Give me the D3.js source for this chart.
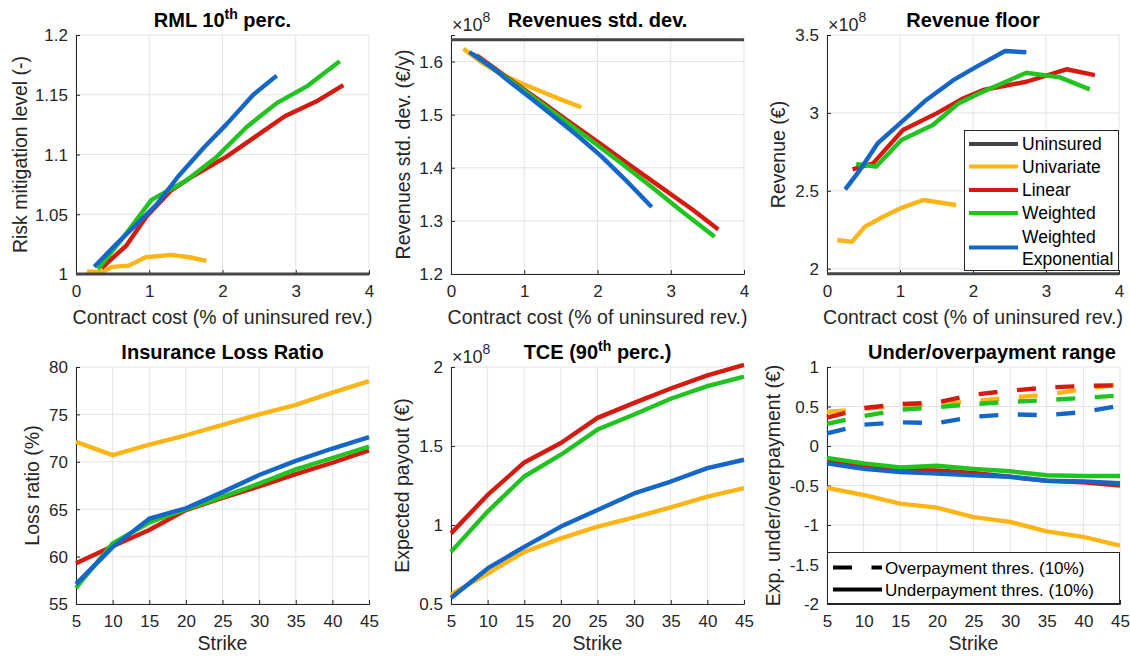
<!DOCTYPE html>
<html>
<head>
<meta charset="utf-8">
<script src="https://cdn.jsdelivr.net/npm/d3@7"></script>
<style>
  html, body { margin: 0; padding: 0; background: #fff; }
  svg { display: block; font-family: "Liberation Sans", Arial, Helvetica, sans-serif; }
</style>
</head>
<body>
<svg id="chart" width="1130" height="656"></svg>
<script>
// ---------- data ----------
const seriesNames = ["Uninsured", "Univariate", "Linear", "Weighted", "Weighted Exponential"];
const strikes = [5, 10, 15, 20, 25, 30, 35, 40, 45];

// RML 10th percentile vs contract cost [cost %, RML]
const rmlUninsured = [[0, 1], [4, 1]];
const rmlUnivariate = [[0.15, 1.002], [0.35, 1.002], [0.5, 1.006], [0.72, 1.007], [0.95, 1.014], [1.3, 1.016], [1.55, 1.014], [1.78, 1.011]];
const rmlLinear = [[0.35, 1.005], [0.69, 1.024], [0.96, 1.048], [1.3, 1.07], [1.6, 1.082], [2.05, 1.098], [2.45, 1.115], [2.85, 1.132], [3.3, 1.145], [3.65, 1.158]];
const rmlWeighted = [[0.3, 1.004], [0.7, 1.035], [1.03, 1.062], [1.5, 1.078], [1.92, 1.098], [2.33, 1.123], [2.74, 1.143], [3.15, 1.157], [3.6, 1.178]];
const rmlWeightedExp = [[0.25, 1.006], [0.55, 1.025], [0.8, 1.040], [1.1, 1.058], [1.4, 1.082], [1.75, 1.106], [2.05, 1.125], [2.42, 1.150], [2.74, 1.166]];

// Revenues standard deviation vs contract cost [cost %, x1e8 EUR/y]
const sdUninsured = [[0, 1.641], [4, 1.641]];
const sdUnivariate = [[0.17, 1.624], [0.4, 1.600], [0.7, 1.575], [1.0, 1.557], [1.3, 1.540], [1.55, 1.526], [1.78, 1.514]];
const sdLinear = [[0.35, 1.612], [0.69, 1.578], [0.96, 1.551], [1.3, 1.518], [1.6, 1.488], [2.05, 1.444], [2.45, 1.404], [2.85, 1.365], [3.3, 1.321], [3.65, 1.284]];
const sdWeighted = [[0.3, 1.614], [0.7, 1.575], [1.03, 1.542], [1.5, 1.494], [1.92, 1.451], [2.33, 1.408], [2.74, 1.364], [3.15, 1.318], [3.6, 1.270]];
const sdWeightedExp = [[0.25, 1.618], [0.55, 1.590], [0.8, 1.562], [1.1, 1.530], [1.4, 1.497], [1.75, 1.458], [2.05, 1.422], [2.42, 1.372], [2.74, 1.326]];

// Revenue floor vs contract cost [cost %, x1e8 EUR]
const rfUninsured = [[0, 1.968], [4, 1.968]];
const rfUnivariate = [[0.14, 2.184], [0.34, 2.172], [0.52, 2.270], [0.77, 2.334], [1.0, 2.387], [1.32, 2.441], [1.77, 2.409]];
const rfLinear = [[0.35, 2.638], [0.63, 2.676], [1.04, 2.890], [1.5, 2.997], [1.87, 3.094], [2.14, 3.147], [2.73, 3.200], [3.28, 3.280], [3.67, 3.243]];
const rfWeighted = [[0.4, 2.672], [0.67, 2.655], [1.02, 2.826], [1.45, 2.922], [1.8, 3.060], [2.09, 3.126], [2.73, 3.258], [3.19, 3.228], [3.6, 3.151]];
const rfWeightedExp = [[0.25, 2.509], [0.45, 2.633], [0.7, 2.808], [1.0, 2.933], [1.36, 3.083], [1.73, 3.210], [2.05, 3.297], [2.44, 3.397], [2.73, 3.389]];

// Insurance loss ratio (%) per strike
const lrUnivariate = [72.1, 70.7, 71.8, 72.8, 73.9, 75.0, 76.0, 77.3, 78.5];
const lrLinear = [59.3, 61.1, 62.8, 64.9, 66.2, 67.4, 68.7, 69.9, 71.2];
const lrWeighted = [56.7, 61.4, 63.6, 65.0, 66.3, 67.7, 69.2, 70.4, 71.6];
const lrWeightedExp = [57.1, 61.0, 64.0, 65.1, 66.8, 68.6, 70.1, 71.4, 72.6];

// TCE (90th percentile) expected payout per strike, x1e8 EUR
const tceUnivariate = [0.561, 0.693, 0.830, 0.915, 0.990, 1.049, 1.112, 1.180, 1.233];
const tceLinear = [0.947, 1.190, 1.396, 1.519, 1.678, 1.773, 1.864, 1.947, 2.013];
const tceWeighted = [0.830, 1.085, 1.307, 1.445, 1.604, 1.699, 1.799, 1.879, 1.939];
const tceWeightedExp = [0.538, 0.725, 0.862, 0.990, 1.095, 1.200, 1.275, 1.360, 1.413];

// Expected over/underpayment per strike
const overUnivariate = [0.43, 0.47, 0.51, 0.52, 0.57, 0.61, 0.65, 0.72, 0.78];
const overLinear = [0.36, 0.48, 0.53, 0.55, 0.65, 0.70, 0.74, 0.76, 0.77];
const overWeighted = [0.28, 0.38, 0.46, 0.49, 0.53, 0.56, 0.58, 0.61, 0.64];
const overWeightedExp = [0.16, 0.27, 0.30, 0.29, 0.37, 0.40, 0.39, 0.43, 0.51];
const underUnivariate = [-0.53, -0.62, -0.73, -0.78, -0.90, -0.96, -1.08, -1.15, -1.26];
const underLinear = [-0.20, -0.26, -0.30, -0.31, -0.34, -0.39, -0.44, -0.46, -0.50];
const underWeighted = [-0.15, -0.22, -0.27, -0.25, -0.29, -0.32, -0.37, -0.38, -0.38];
const underWeightedExp = [-0.22, -0.29, -0.33, -0.35, -0.37, -0.39, -0.44, -0.45, -0.47];

// tick values
const costTicks = [0, 1, 2, 3, 4];
const strikeTicks = strikes;
const rmlTicks = [1, 1.05, 1.1, 1.15, 1.2];
const sdTicks = [1.2, 1.3, 1.4, 1.5, 1.6];
const rfTicks = [2, 2.5, 3, 3.5];
const lrTicks = [55, 60, 65, 70, 75, 80];
const tceTicks = [0.5, 1, 1.5, 2];
const opTicks = [-2, -1.5, -1, -0.5, 0, 0.5, 1];

// ---------- style ----------
const colors = {
  "Uninsured": "#454545",
  "Univariate": "#FDB515",
  "Linear": "#D51B10",
  "Weighted": "#20C320",
  "Weighted Exponential": "#1466C8"
};
const axisColor = "#262626";
const gridColor = "#e3e3e3";
const lineW = 4.4;
const dashPattern = "19,19.5";
const tickFont = 17;

const svg = d3.select("#chart");

const zip = arr => arr.map((v, i) => [strikes[i], v]);

// ---------- panels ----------
const panels = [
  {
    box: [76, 35, 369, 274], xDomain: [0, 4], yDomain: [1, 1.2], xTicks: costTicks, yTicks: rmlTicks,
    title: ["RML 10", "th", " perc."], titleX: 222.5, xLabel: "Contract cost (% of uninsured rev.)", xLabelDy: 50,
    yLabel: "Risk mitigation level (-)", yLabelX: 27,
    lines: [
      { name: "Univariate", data: rmlUnivariate }, { name: "Linear", data: rmlLinear },
      { name: "Weighted", data: rmlWeighted }, { name: "Weighted Exponential", data: rmlWeightedExp },
      { name: "Uninsured", data: rmlUninsured, w: 3 }
    ]
  },
  {
    box: [451, 35, 744, 274], xDomain: [0, 4], yDomain: [1.2, 1.65], xTicks: costTicks, yTicks: sdTicks,
    title: ["Revenues std. dev."], titleX: 597.5, xLabel: "Contract cost (% of uninsured rev.)", xLabelDy: 50,
    yLabel: "Revenues std. dev. (€/y)", yLabelX: 410, exponent: true,
    lines: [
      { name: "Uninsured", data: sdUninsured, w: 3 },
      { name: "Univariate", data: sdUnivariate }, { name: "Linear", data: sdLinear },
      { name: "Weighted", data: sdWeighted }, { name: "Weighted Exponential", data: sdWeightedExp }
    ]
  },
  {
    box: [827, 35, 1119, 274], xDomain: [0, 4], yDomain: [1.966, 3.5], xTicks: costTicks, yTicks: rfTicks,
    title: ["Revenue floor"], titleX: 973, xLabel: "Contract cost (% of uninsured rev.)", xLabelDy: 50,
    yLabel: "Revenue (€)", yLabelX: 785, exponent: true, legend: "series",
    lines: [
      { name: "Univariate", data: rfUnivariate }, { name: "Linear", data: rfLinear },
      { name: "Weighted", data: rfWeighted }, { name: "Weighted Exponential", data: rfWeightedExp },
      { name: "Uninsured", data: rfUninsured, w: 3 }
    ]
  },
  {
    box: [76, 367, 369, 604], xDomain: [5, 45], yDomain: [55, 80], xTicks: strikeTicks, yTicks: lrTicks,
    title: ["Insurance Loss Ratio"], titleX: 222.5, xLabel: "Strike", xLabelDy: 46,
    yLabel: "Loss ratio (%)", yLabelX: 39,
    lines: [
      { name: "Univariate", data: zip(lrUnivariate) }, { name: "Linear", data: zip(lrLinear) },
      { name: "Weighted", data: zip(lrWeighted) }, { name: "Weighted Exponential", data: zip(lrWeightedExp) }
    ]
  },
  {
    box: [451, 367, 744, 604], xDomain: [5, 45], yDomain: [0.5, 2], xTicks: strikeTicks, yTicks: tceTicks,
    title: ["TCE (90", "th", " perc.)"], titleX: 597.5, xLabel: "Strike", xLabelDy: 46,
    yLabel: "Expected payout (€)", yLabelX: 409, exponent: true,
    lines: [
      { name: "Univariate", data: zip(tceUnivariate) }, { name: "Linear", data: zip(tceLinear) },
      { name: "Weighted", data: zip(tceWeighted) }, { name: "Weighted Exponential", data: zip(tceWeightedExp) }
    ]
  },
  {
    box: [827, 367, 1120, 604], xDomain: [5, 45], yDomain: [-2, 1], xTicks: strikeTicks, yTicks: opTicks,
    title: ["Under/overpayment range"], titleX: 992, xLabel: "Strike", xLabelDy: 46,
    yLabel: "Exp. under/overpayment (€)", yLabelX: 780, legend: "style",
    lines: [
      { name: "Univariate", data: zip(overUnivariate), dash: true }, { name: "Linear", data: zip(overLinear), dash: true },
      { name: "Weighted", data: zip(overWeighted), dash: true }, { name: "Weighted Exponential", data: zip(overWeightedExp), dash: true },
      { name: "Univariate", data: zip(underUnivariate) }, { name: "Linear", data: zip(underLinear) },
      { name: "Weighted", data: zip(underWeighted) }, { name: "Weighted Exponential", data: zip(underWeightedExp) }
    ]
  }
];

function fmt(v) {
  return String(+v.toFixed(2));
}

panels.forEach(p => {
  const [x0, y0, x1, y1] = p.box;
  const x = d3.scaleLinear().domain(p.xDomain).range([x0, x1]);
  const y = d3.scaleLinear().domain(p.yDomain).range([y1, y0]);
  const g = svg.append("g");

  // grid
  g.append("g").selectAll("line").data(p.xTicks).join("line")
    .attr("x1", d => x(d)).attr("x2", d => x(d)).attr("y1", y0).attr("y2", y1)
    .attr("stroke", gridColor).attr("stroke-width", 1);
  g.append("g").selectAll("line").data(p.yTicks).join("line")
    .attr("x1", x0).attr("x2", x1).attr("y1", d => y(d)).attr("y2", d => y(d))
    .attr("stroke", gridColor).attr("stroke-width", 1);

  // axes with inward ticks
  const xAxis = d3.axisBottom(x).tickValues(p.xTicks).tickSize(-4).tickPadding(8).tickFormat(fmt);
  const yAxis = d3.axisLeft(y).tickValues(p.yTicks).tickSize(-4).tickPadding(8).tickFormat(fmt);
  const gx = g.append("g").attr("transform", `translate(0,${y1})`).call(xAxis);
  const gy = g.append("g").attr("transform", `translate(${x0},0)`).call(yAxis);
  [gx, gy].forEach(a => {
    a.select(".domain").attr("stroke", axisColor).attr("stroke-width", 1);
    a.selectAll(".tick line").attr("stroke", axisColor);
    a.selectAll(".tick text").attr("fill", axisColor).attr("font-size", tickFont)
      .attr("font-family", "Liberation Sans, Arial, sans-serif");
  });
  gx.selectAll(".tick text").attr("dy", "0.9em");
  gy.selectAll(".tick text").attr("dy", "0.35em");

  // data lines
  const line = d3.line().x(d => x(d[0])).y(d => y(d[1]));
  p.lines.forEach(s => {
    g.append("path").datum(s.data)
      .attr("d", line)
      .attr("fill", "none")
      .attr("stroke", colors[s.name])
      .attr("stroke-width", s.w || lineW)
      .attr("stroke-linejoin", "round")
      .attr("stroke-dasharray", s.dash ? dashPattern : null);
  });

  // title
  const t = g.append("text").attr("x", p.titleX).attr("y", y0 - 8)
    .attr("text-anchor", "middle").attr("font-size", 20).attr("font-weight", "bold").attr("fill", "#000");
  t.append("tspan").text(p.title[0]);
  if (p.title.length > 1) {
    t.append("tspan").attr("dy", -8).attr("font-size", 14).text(p.title[1]);
    t.append("tspan").attr("dy", 8).text(p.title[2]);
  }

  // axis labels
  g.append("text").attr("x", (x0 + x1) / 2).attr("y", y1 + p.xLabelDy)
    .attr("text-anchor", "middle").attr("font-size", 19.5).attr("fill", axisColor).text(p.xLabel);
  g.append("text").attr("transform", `translate(${p.yLabelX},${(y0 + y1) / 2}) rotate(-90)`)
    .attr("text-anchor", "middle").attr("font-size", 19.5).attr("fill", axisColor).text(p.yLabel);

  // exponent marker
  if (p.exponent) {
    const e = g.append("text").attr("x", x0 + 1).attr("y", y0 - 4)
      .attr("font-size", 18).attr("fill", axisColor);
    e.append("tspan").text("×10");
    e.append("tspan").attr("dy", -9).attr("font-size", 14).text("8");
  }

  // legends
  if (p.legend === "series") {
    const lg = g.append("g");
    lg.append("rect").attr("x", 964.5).attr("y", 130.5).attr("width", 154).attr("height", 140)
      .attr("fill", "#fff").attr("stroke", axisColor).attr("stroke-width", 1);
    const rows = [
      { name: "Uninsured", y: 144, text: ["Uninsured"] },
      { name: "Univariate", y: 166.5, text: ["Univariate"] },
      { name: "Linear", y: 190, text: ["Linear"] },
      { name: "Weighted", y: 213, text: ["Weighted"] },
      { name: "Weighted Exponential", y: 247.5, text: ["Weighted", "Exponential"] }
    ];
    rows.forEach(r => {
      lg.append("line").attr("x1", 969).attr("x2", 1018).attr("y1", r.y).attr("y2", r.y)
        .attr("stroke", colors[r.name]).attr("stroke-width", 4);
      const tt = lg.append("text").attr("x", 1022).attr("font-size", 17.5).attr("fill", "#000");
      if (r.text.length === 1) {
        tt.attr("y", r.y + 6).text(r.text[0]);
      } else {
        tt.append("tspan").attr("x", 1022).attr("y", r.y - 4.5).text(r.text[0]);
        tt.append("tspan").attr("x", 1022).attr("y", r.y + 17).text(r.text[1]);
      }
    });
  }
  if (p.legend === "style") {
    const lg = g.append("g");
    lg.append("rect").attr("x", 827.5).attr("y", 552.5).attr("width", 292).attr("height", 51)
      .attr("fill", "#fff").attr("stroke", axisColor).attr("stroke-width", 1);
    const rows = [
      { y: 567.5, dash: true, text: "Overpayment thres. (10%)" },
      { y: 589.5, dash: false, text: "Underpayment thres. (10%)" }
    ];
    rows.forEach(r => {
      lg.append("line").attr("x1", 833).attr("x2", 882).attr("y1", r.y).attr("y2", r.y)
        .attr("stroke", "#000").attr("stroke-width", 4)
        .attr("stroke-dasharray", r.dash ? dashPattern : null);
      lg.append("text").attr("x", 885).attr("y", r.y + 6).attr("font-size", 17).attr("fill", "#000").text(r.text);
    });
  }
});
</script>
</body>
</html>
